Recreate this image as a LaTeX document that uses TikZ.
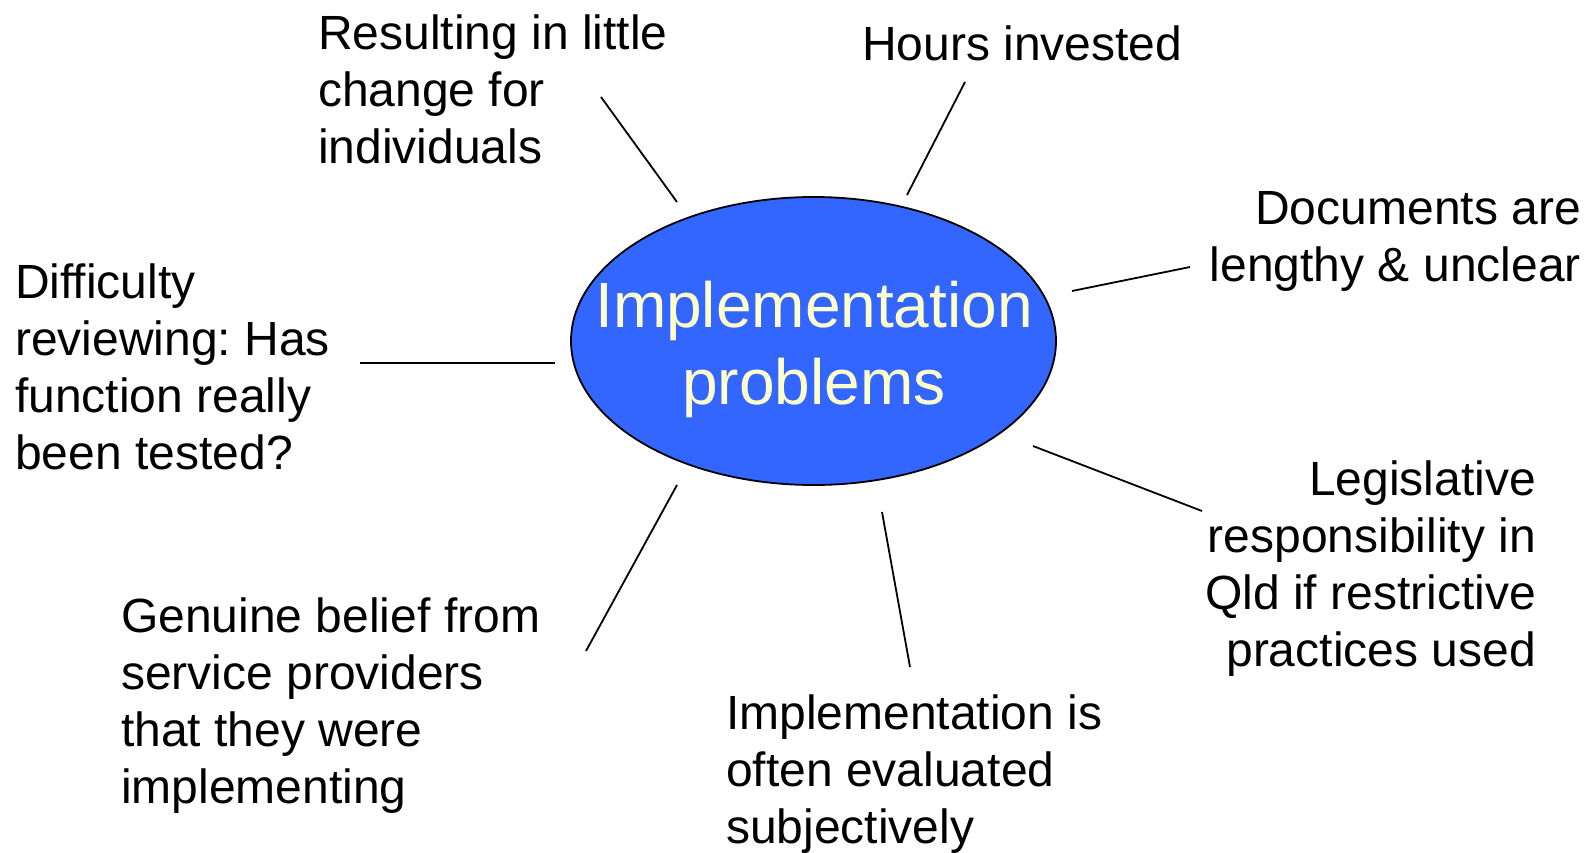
\documentclass[tikz,border=0pt]{standalone}
\usepackage{fontspec}
\setmainfont{Liberation Sans}
\usetikzlibrary{shapes.geometric}
\definecolor{ellblue}{HTML}{3366FF}
\definecolor{ltyellow}{HTML}{FFFFCC}
\frenchspacing
\begin{document}
\begin{tikzpicture}[x=1pt,y=-1pt,
  lbl/.style={inner sep=0pt,font=\fontsize{48}{57}\selectfont},
  lblL/.style={lbl,anchor=north west,align=left},
  lblR/.style={lbl,anchor=north east,align=right},
  conn/.style={draw=black,line width=1.8pt},
  centre/.style={ellipse,draw=black,line width=1.8pt,fill=ellblue,inner sep=0pt,minimum width=485pt,minimum height=288pt}]
\useasboundingbox (0,0) rectangle (1595,852);
\node[centre] (c) at (813.5,341) {};
\node[inner sep=0pt,anchor=north,align=center,text=ltyellow,font=\fontsize{64}{77}\selectfont] (ct) at (814,281) {Implementation\\problems};
\node[lblL] (res) at (318,15) {Resulting in little\\change for\\individuals};
\node[lblL] (hrs) at (862,26) {Hours invested};
\node[lblR] (doc) at (1581,191) {Documents are\\lengthy \& unclear};
\node[lblL] (dif) at (15,264) {Difficulty\\reviewing: Has\\function really\\been tested?};
\node[lblR] (leg) at (1536,461) {Legislative\\responsibility in\\Qld if restrictive\\practices used};
\node[lblL] (gen) at (121,598) {Genuine belief from\\service providers\\that they were\\implementing};
\node[lblL] (imp) at (726,695) {Implementation is\\often evaluated\\subjectively};
\coordinate (a1) at (601,97);   \coordinate (a2) at (677,202);
\coordinate (b1) at (965,82);   \coordinate (b2) at (907,195);
\coordinate (c1) at (1190,267); \coordinate (c2) at (1072,291);
\coordinate (d1) at (360,363);  \coordinate (d2) at (555,363);
\coordinate (e1) at (1033,446); \coordinate (e2) at (1202,511);
\coordinate (f1) at (882,512);  \coordinate (f2) at (910,667);
\coordinate (g1) at (677,485);  \coordinate (g2) at (586,651);
\draw[conn] (a1) -- (a2);
\draw[conn] (b1) -- (b2);
\draw[conn] (c1) -- (c2);
\draw[conn] (d1) -- (d2);
\draw[conn] (e1) -- (e2);
\draw[conn] (f1) -- (f2);
\draw[conn] (g1) -- (g2);
\end{tikzpicture}
\end{document}
